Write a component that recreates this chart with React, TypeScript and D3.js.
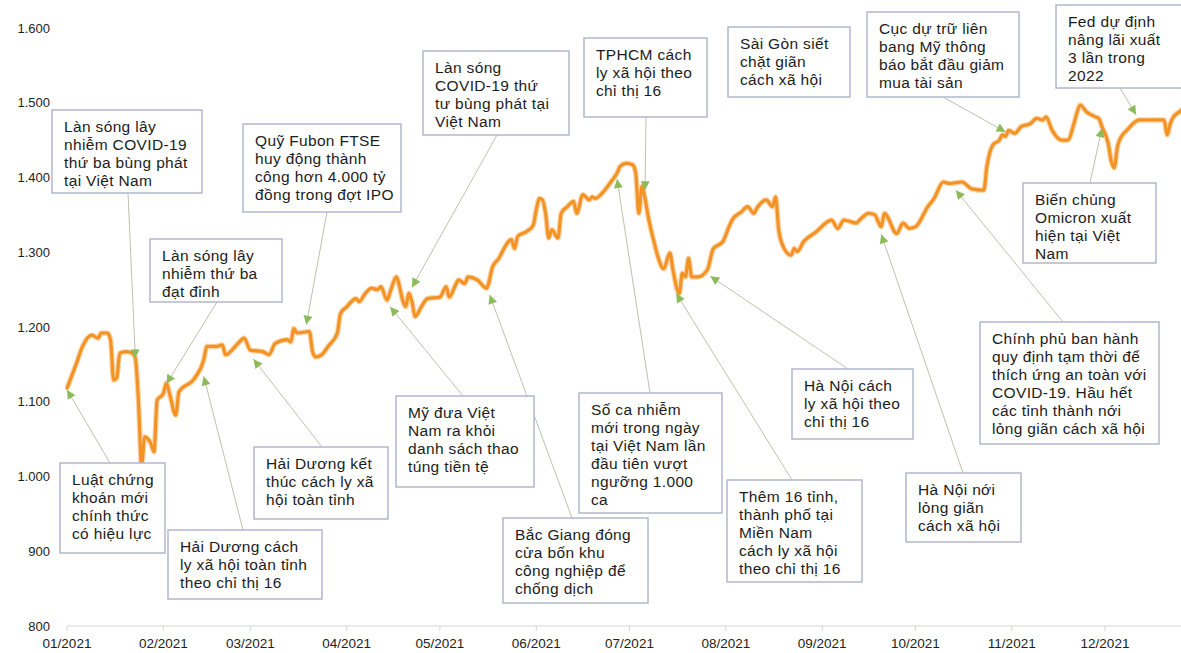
import React from "react";
import * as d3 from "d3";

// ---------- DATA ----------
const dates: string[] = [
  "2021-01-01","2021-01-04","2021-01-06","2021-01-09","2021-01-11","2021-01-12","2021-01-14","2021-01-15","2021-01-16","2021-01-17",
  "2021-01-18","2021-01-20","2021-01-22","2021-01-23","2021-01-24","2021-01-25","2021-01-26","2021-01-28","2021-01-29","2021-01-30",
  "2021-02-01","2021-02-02","2021-02-03","2021-02-05","2021-02-06","2021-02-11","2021-02-14","2021-02-15","2021-02-18","2021-02-20",
  "2021-02-21","2021-02-25","2021-02-27","2021-03-01","2021-03-05","2021-03-07","2021-03-09","2021-03-13","2021-03-14","2021-03-15",
  "2021-03-16","2021-03-20","2021-03-21","2021-03-22","2021-03-24","2021-03-26","2021-03-29","2021-03-30","2021-04-01","2021-04-04",
  "2021-04-05","2021-04-07","2021-04-09","2021-04-11","2021-04-12","2021-04-14","2021-04-15","2021-04-17","2021-04-18","2021-04-19",
  "2021-04-20","2021-04-21","2021-04-22","2021-04-23","2021-04-25","2021-04-27","2021-05-01","2021-05-03","2021-05-04","2021-05-06",
  "2021-05-07","2021-05-09","2021-05-10","2021-05-13","2021-05-16","2021-05-18","2021-05-20","2021-05-22","2021-05-24","2021-05-25",
  "2021-05-26","2021-05-29","2021-05-31","2021-06-01","2021-06-02","2021-06-03","2021-06-04","2021-06-05","2021-06-06","2021-06-08",
  "2021-06-09","2021-06-11","2021-06-13","2021-06-14","2021-06-16","2021-06-18","2021-06-19","2021-06-20","2021-06-23","2021-06-25",
  "2021-06-27","2021-06-28","2021-06-30","2021-07-02","2021-07-03","2021-07-04","2021-07-05","2021-07-06","2021-07-07","2021-07-09",
  "2021-07-10","2021-07-12","2021-07-14","2021-07-15","2021-07-17","2021-07-18","2021-07-19","2021-07-20","2021-07-21","2021-07-23",
  "2021-07-26","2021-07-28","2021-07-31","2021-08-02","2021-08-03","2021-08-06","2021-08-08","2021-08-10","2021-08-11","2021-08-14",
  "2021-08-16","2021-08-17","2021-08-18","2021-08-19","2021-08-22","2021-08-23","2021-08-24","2021-08-26","2021-08-30","2021-09-04",
  "2021-09-06","2021-09-08","2021-09-12","2021-09-13","2021-09-16","2021-09-18","2021-09-19","2021-09-20","2021-09-21","2021-09-25",
  "2021-09-27","2021-09-29","2021-10-01","2021-10-05","2021-10-07","2021-10-10","2021-10-12","2021-10-16","2021-10-19","2021-10-23",
  "2021-10-24","2021-10-26","2021-10-28","2021-10-29","2021-10-30","2021-10-31","2021-11-02","2021-11-04","2021-11-07","2021-11-09",
  "2021-11-11","2021-11-12","2021-11-14","2021-11-17","2021-11-19","2021-11-21","2021-11-22","2021-11-23","2021-11-25","2021-11-28",
  "2021-11-29","2021-11-30","2021-12-02","2021-12-03","2021-12-04","2021-12-05","2021-12-07","2021-12-08","2021-12-10","2021-12-12",
  "2021-12-14","2021-12-17","2021-12-20","2021-12-21","2021-12-22","2021-12-23","2021-12-25","2021-12-26"
];
const vnIndex: number[] = [
  1118,1151,1174,1189,1185,1192,1192,1183,1129,1132,
  1165,1167,1165,1158,1100,1015,1053,1044,1033,1102,
  1111,1125,1111,1082,1113,1131,1156,1174,1174,1176,
  1163,1178,1185,1169,1167,1163,1178,1183,1180,1198,
  1192,1194,1167,1160,1163,1174,1192,1218,1227,1238,
  1234,1245,1252,1250,1254,1236,1247,1267,1254,1236,
  1227,1245,1234,1214,1227,1238,1240,1254,1240,1256,
  1263,1258,1267,1263,1252,1281,1292,1308,1317,1305,
  1321,1328,1336,1357,1372,1370,1352,1319,1330,1319,
  1352,1361,1368,1352,1377,1370,1374,1372,1383,1394,
  1406,1415,1419,1417,1406,1352,1388,1372,1348,1312,
  1296,1278,1299,1276,1245,1272,1267,1292,1267,1267,
  1276,1305,1314,1334,1343,1354,1361,1352,1359,1370,
  1361,1374,1330,1312,1296,1305,1301,1314,1327,1343,
  1332,1343,1339,1343,1352,1350,1341,1334,1352,1325,
  1339,1332,1334,1361,1372,1394,1392,1394,1385,1383,
  1415,1444,1450,1457,1455,1463,1459,1468,1472,1479,
  1477,1481,1463,1450,1450,1472,1487,1497,1488,1481,
  1479,1468,1446,1422,1413,1441,1459,1463,1472,1477,
  1477,1477,1477,1457,1472,1481,1488,1492
];
const yTicks: number[] = [800, 900, 1000, 1100, 1200, 1300, 1400, 1500, 1600];
const monthTicks: string[] = [
  "2021-01-01","2021-02-01","2021-03-01","2021-04-01","2021-05-01","2021-06-01",
  "2021-07-01","2021-08-01","2021-09-01","2021-10-01","2021-11-01","2021-12-01"
];

// annotation texts and their target points on the series
const eventTexts: string[][] = [
  ["Làn sóng lây", "nhiễm COVID-19", "thứ ba bùng phát", "tại Việt Nam"],
  ["Quỹ Fubon FTSE", "huy động thành", "công hơn 4.000 tỷ", "đồng trong đợt IPO"],
  ["Làn sóng lây", "nhiễm thứ ba", "đạt đỉnh"],
  ["Làn sóng", "COVID-19 thứ", "tư bùng phát tại", "Việt Nam"],
  ["TPHCM cách", "ly xã hội theo", "chỉ thị 16"],
  ["Sài Gòn siết", "chặt giãn", "cách xã hội"],
  ["Cục dự trữ liên", "bang Mỹ thông", "báo bắt đầu giảm", "mua tài sản"],
  ["Fed dự định", "nâng lãi xuất", "3 lần trong", "2022"],
  ["Biến chủng", "Omicron xuất", "hiện tại Việt", "Nam"],
  ["Luật chứng", "khoán mới", "chính thức", "có hiệu lực"],
  ["Hải Dương cách", "ly xã hội toàn tỉnh", "theo chỉ thị 16"],
  ["Hải Dương kết", "thúc cách ly xã", "hội toàn tỉnh"],
  ["Mỹ đưa Việt", "Nam ra khỏi", "danh sách thao", "túng tiền tệ"],
  ["Bắc Giang đóng", "cửa bốn khu", "công nghiệp để", "chống dịch"],
  ["Số ca nhiễm", "mới trong ngày", "tại Việt Nam lần", "đầu tiên vượt", "ngưỡng 1.000", "ca"],
  ["Thêm 16 tỉnh,", "thành phố tại", "Miền Nam", "cách ly xã hội", "theo chỉ thị 16"],
  ["Hà Nội cách", "ly xã hội theo", "chỉ thị 16"],
  ["Hà Nội nới", "lỏng giãn", "cách xã hội"],
  ["Chính phủ ban hành", "quy định tạm thời để", "thích ứng an toàn với", "COVID-19. Hầu hết", "các tỉnh thành nới", "lỏng giãn cách xã hội"]
];
const eventDates: (string | null)[] = [
  "2021-01-23","2021-03-19","2021-02-02","2021-04-22","2021-07-06",null,"2021-10-30","2021-12-11","2021-11-30","2021-01-01",
  "2021-02-14","2021-03-02","2021-04-15","2021-05-17","2021-06-27","2021-07-16","2021-07-27","2021-09-20","2021-10-14"
];
const eventValues: (number | null)[] = [
  1158,1203,1124,1253,1383,null,1461,1484,1466,1116,
  1134,1157,1227,1243,1398,1245,1268,1324,1383
];

// ---------- LAYOUT (box geometry: x, y, w, h, leader anchor ax, ay) ----------
const boxLayout: number[][] = [
  [52, 110, 150, 83, 128, 193],
  [243, 124, 158, 88, 327, 212],
  [150, 239, 132, 63, 217, 302],
  [423, 51, 146, 84, 497, 135],
  [584, 38, 123, 79, 646, 117],
  [728, 27, 122, 70, 0, 0],
  [867, 12, 152, 85, 943, 97],
  [1056, 5, 130, 83, 1120, 88],
  [1023, 183, 133, 80, 1090, 183],
  [60, 463, 105, 90, 110, 463],
  [168, 530, 154, 69, 243, 530],
  [254, 447, 134, 72, 322, 447],
  [396, 396, 138, 91, 463, 396],
  [503, 518, 145, 85, 572, 518],
  [579, 393, 143, 120, 650, 393],
  [727, 480, 135, 102, 792, 480],
  [792, 369, 121, 70, 848, 369],
  [906, 473, 115, 69, 963, 473],
  [980, 322, 179, 122, 1063, 322]
];

const W = 1181;
const H = 653;

export default function App() {
  const parse = d3.utcParse("%Y-%m-%d");
  const series = dates.map((d, i) => ({ date: parse(d) as Date, value: vnIndex[i] }));

  const x = d3
    .scaleUtc()
    .domain([parse("2021-01-01") as Date, parse("2021-12-01") as Date])
    .range([67, 1105]);
  const y = d3.scaleLinear().domain([800, 1600]).range([626, 28]);

  const locale = d3.formatLocale({ decimal: ",", thousands: ".", grouping: [3], currency: ["", ""] });
  const fmtY = locale.format(",");
  const fmtX = d3.utcFormat("%m/%Y");

  const line = d3
    .line<{ date: Date; value: number }>()
    .x((d) => x(d.date))
    .y((d) => y(d.value))
    .curve(d3.curveMonotoneX);

  const font = "'Liberation Sans', Arial, sans-serif";

  return (
    <svg
      width={W}
      height={H}
      style={{ position: "absolute", left: 0, top: 0, background: "#fff" }}
      fontFamily={font}
    >
      <defs>
        <marker
          id="arrowHead"
          viewBox="0 0 10 10"
          refX="10"
          refY="5"
          markerWidth="10"
          markerHeight="9"
          markerUnits="userSpaceOnUse"
          orient="auto"
        >
          <path d="M0,0 L10,5 L0,10 z" fill="#8dbb5c" />
        </marker>
        <clipPath id="plotClip">
          <rect x={0} y={0} width={W} height={H} />
        </clipPath>
      </defs>
      <rect x={0} y={0} width={W} height={H} fill="#fff" />

      {/* y axis labels */}
      {yTicks.map((t) => (
        <text key={t} x={50} y={y(t)} dy="0.35em" textAnchor="end" fontSize={13} fill="#222">
          {fmtY(t)}
        </text>
      ))}

      {/* x axis */}
      <line x1={67} x2={W} y1={y(800)} y2={y(800)} stroke="#d6d6d6" strokeWidth={1} />
      {monthTicks.map((m) => {
        const xx = x(parse(m) as Date);
        return (
          <g key={m}>
            <line x1={xx} x2={xx} y1={y(800)} y2={y(800) + 5} stroke="#d6d6d6" strokeWidth={1} />
            <text x={xx} y={648} textAnchor="middle" fontSize={13.5} fill="#222">
              {fmtX(parse(m) as Date)}
            </text>
          </g>
        );
      })}

      {/* series */}
      <path
        d={line(series) || ""}
        fill="none"
        stroke="#f7a34a"
        strokeOpacity={0.45}
        strokeWidth={5.5}
        strokeLinejoin="round"
        clipPath="url(#plotClip)"
      />
      <path
        d={line(series) || ""}
        fill="none"
        stroke="#f39325"
        strokeWidth={3.2}
        strokeLinejoin="round"
        strokeLinecap="round"
        clipPath="url(#plotClip)"
      />

      {/* leaders */}
      {eventTexts.map((_, i) => {
        const dStr = eventDates[i];
        const v = eventValues[i];
        if (!dStr || v == null) return null;
        const b = boxLayout[i];
        const tx = x(parse(dStr) as Date);
        const ty = y(v);
        return (
          <line
            key={"l" + i}
            x1={b[4]}
            y1={b[5]}
            x2={tx}
            y2={ty}
            stroke="#bfc0ae"
            strokeWidth={1}
            markerEnd="url(#arrowHead)"
          />
        );
      })}

      {/* boxes */}
      {eventTexts.map((lines, i) => {
        const b = boxLayout[i];
        return (
          <g key={"b" + i}>
            <rect
              x={b[0]}
              y={b[1]}
              width={b[2]}
              height={b[3]}
              fill="#fff"
              stroke="#b3b7cb"
              strokeWidth={1.5}
            />
            {lines.map((t, j) => (
              <text
                key={j}
                x={b[0] + 12}
                y={b[1] + 22 + j * 18}
                fontSize={15.5}
                letterSpacing={0.35}
                fill="#1c1c1c"
              >
                {t}
              </text>
            ))}
          </g>
        );
      })}
    </svg>
  );
}
